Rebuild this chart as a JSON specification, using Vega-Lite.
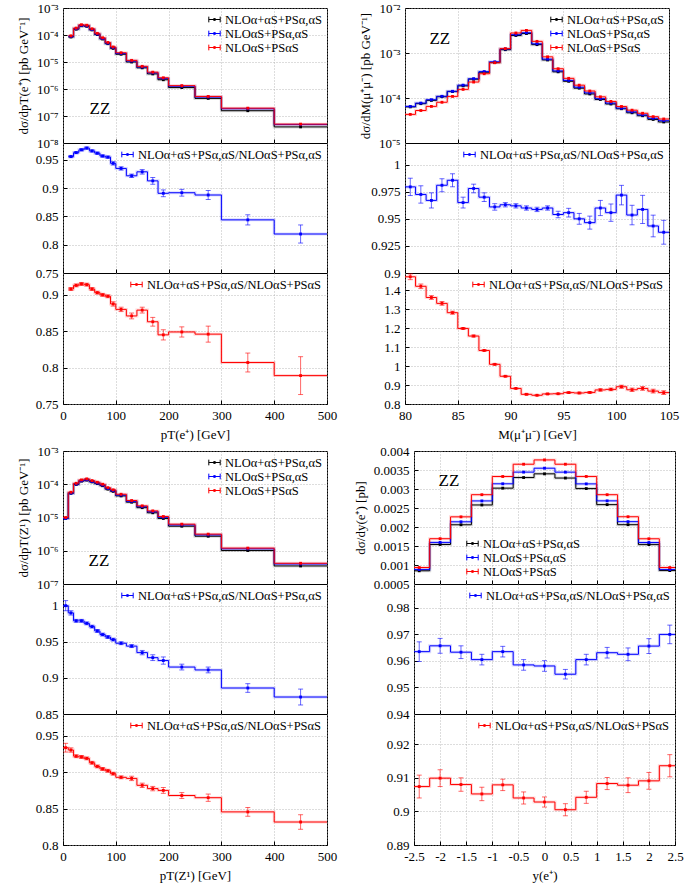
{
"$schema":"https://vega.github.io/schema/vega-lite/v6.json",
"background":"white",
"padding":{"left":16,"top":1,"right":0,"bottom":2},
"config":{
 "font":"Liberation Serif",
 "view":{"stroke":"#000","strokeWidth":1},
 "axis":{"domain":false,"grid":true,"gridColor":"#a8a8a8","gridDash":[1,2],"gridWidth":0.8,"tickColor":"#000","tickSize":-4,"labelPadding":9,"labelFlush":false,"labelFont":"Liberation Serif","labelFontSize":13,"labelColor":"#000","titleFont":"Liberation Serif","titleFontSize":13,"titleFontWeight":"normal","titleColor":"#000"},
 "axisY":{"titlePadding":6},
 "axisX":{"titlePadding":6},
 "legend":{"orient":"top-right","offset":3,"padding":2,"labelFont":"Liberation Serif","labelFontSize":12.5,"labelColor":"#000","symbolType":"M-1,0H1M-1,-0.5V0.5M1,-0.5V0.5M-0.15,-0.15H0.15V0.15H-0.15Z","symbolSize":130,"symbolStrokeWidth":1,"symbolOpacity":1,"rowPadding":1,"labelLimit":400}
},
"datasets":{
"A":[
{"lo":10,"hi":20,"c":15,"k":8.44e-5,"b":8.83e-5,"r":9.3e-5,"r1":0.956,"e1":0.002,"r2":0.908,"e2":0.002},
{"lo":20,"hi":30,"c":25,"k":1.643e-4,"b":1.706e-4,"r":1.8e-4,"r1":0.963,"e1":0.002,"r2":0.913,"e2":0.002},
{"lo":30,"hi":40,"c":35,"k":2.196e-4,"b":2.269e-4,"r":2.4e-4,"r1":0.968,"e1":0.002,"r2":0.915,"e2":0.002},
{"lo":40,"hi":50,"c":45,"k":2.102e-4,"b":2.165e-4,"r":2.3e-4,"r1":0.971,"e1":0.002,"r2":0.914,"e2":0.002},
{"lo":50,"hi":60,"c":55,"k":1.544e-4,"b":1.598e-4,"r":1.7e-4,"r1":0.966,"e1":0.002,"r2":0.908,"e2":0.002},
{"lo":60,"hi":70,"c":65,"k":1.038e-4,"b":1.079e-4,"r":1.15e-4,"r1":0.962,"e1":0.002,"r2":0.903,"e2":0.002},
{"lo":70,"hi":80,"c":75,"k":7.11e-5,"b":7.43e-5,"r":7.9e-5,"r1":0.957,"e1":0.002,"r2":0.9,"e2":0.002},
{"lo":80,"hi":90,"c":85,"k":4.76e-5,"b":4.98e-5,"r":5.3e-5,"r1":0.955,"e1":0.002,"r2":0.898,"e2":0.002},
{"lo":90,"hi":100,"c":95,"k":3.195e-5,"b":3.385e-5,"r":3.6e-5,"r1":0.944,"e1":0.003,"r2":0.8875,"e2":0.003},
{"lo":100,"hi":120,"c":110,"k":1.936e-5,"b":2.07e-5,"r":2.2e-5,"r1":0.935,"e1":0.003,"r2":0.88,"e2":0.003},
{"lo":120,"hi":140,"c":130,"k":1.0e-5,"b":1.085e-5,"r":1.15e-5,"r1":0.922,"e1":0.003,"r2":0.871,"e2":0.004},
{"lo":140,"hi":160,"c":150,"k":6.07e-6,"b":6.53e-6,"r":6.9e-6,"r1":0.929,"e1":0.004,"r2":0.879,"e2":0.004},
{"lo":160,"hi":180,"c":170,"k":3.62e-6,"b":3.97e-6,"r":4.2e-6,"r1":0.913,"e1":0.006,"r2":0.863,"e2":0.006},
{"lo":180,"hi":200,"c":190,"k":2.2e-6,"b":2.47e-6,"r":2.6e-6,"r1":0.891,"e1":0.006,"r2":0.845,"e2":0.007},
{"lo":200,"hi":250,"c":225,"k":1.13e-6,"b":1.267e-6,"r":1.33e-6,"r1":0.892,"e1":0.006,"r2":0.849,"e2":0.007},
{"lo":250,"hi":300,"c":275,"k":4.48e-7,"b":5.05e-7,"r":5.3e-7,"r1":0.888,"e1":0.008,"r2":0.846,"e2":0.011},
{"lo":300,"hi":400,"c":350,"k":1.57e-7,"b":1.86e-7,"r":1.95e-7,"r1":0.844,"e1":0.009,"r2":0.807,"e2":0.013},
{"lo":400,"hi":500,"c":450,"k":3.95e-8,"b":4.82e-8,"r":5.0e-8,"r1":0.819,"e1":0.016,"r2":0.789,"e2":0.026}
],
"B":[
{"lo":80,"hi":81,"c":80.5,"k":6.357e-5,"b":6.49e-5,"r":4.325e-5,"r1":0.9795,"e1":0.008,"r2":1.47,"e2":0.015},
{"lo":81,"hi":82,"c":81.5,"k":7.488e-5,"b":7.7e-5,"r":5.273e-5,"r1":0.9725,"e1":0.008,"r2":1.42,"e2":0.012},
{"lo":82,"hi":83,"c":82.5,"k":8.858e-5,"b":9.16e-5,"r":6.508e-5,"r1":0.967,"e1":0.007,"r2":1.361,"e2":0.01},
{"lo":83,"hi":84,"c":83.5,"k":1.069e-4,"b":1.09e-4,"r":8.038e-5,"r1":0.981,"e1":0.006,"r2":1.33,"e2":0.01},
{"lo":84,"hi":85,"c":84.5,"k":1.39e-4,"b":1.41e-4,"r":1.085e-4,"r1":0.9856,"e1":0.006,"r2":1.281,"e2":0.008},
{"lo":85,"hi":86,"c":85.5,"k":1.862e-4,"b":1.93e-4,"r":1.554e-4,"r1":0.965,"e1":0.005,"r2":1.198,"e2":0.005},
{"lo":86,"hi":87,"c":86.5,"k":2.621e-4,"b":2.68e-4,"r":2.263e-4,"r1":0.978,"e1":0.004,"r2":1.158,"e2":0.005},
{"lo":87,"hi":88,"c":87.5,"k":3.744e-4,"b":3.86e-4,"r":3.46e-4,"r1":0.97,"e1":0.004,"r2":1.082,"e2":0.004},
{"lo":88,"hi":89,"c":88.5,"k":6.131e-4,"b":6.38e-4,"r":6.076e-4,"r1":0.961,"e1":0.003,"r2":1.009,"e2":0.004},
{"lo":89,"hi":90,"c":89.5,"k":1.184e-3,"b":1.23e-3,"r":1.252e-3,"r1":0.963,"e1":0.002,"r2":0.946,"e2":0.003},
{"lo":90,"hi":91,"c":90.5,"k":2.453e-3,"b":2.55e-3,"r":2.781e-3,"r1":0.962,"e1":0.002,"r2":0.882,"e2":0.003},
{"lo":91,"hi":92,"c":91.5,"k":2.707e-3,"b":2.82e-3,"r":3.181e-3,"r1":0.96,"e1":0.002,"r2":0.851,"e2":0.003},
{"lo":92,"hi":93,"c":92.5,"k":1.534e-3,"b":1.6e-3,"r":1.813e-3,"r1":0.9587,"e1":0.002,"r2":0.846,"e2":0.003},
{"lo":93,"hi":94,"c":93.5,"k":7.008e-4,"b":7.3e-4,"r":8.216e-4,"r1":0.96,"e1":0.002,"r2":0.853,"e2":0.003},
{"lo":94,"hi":95,"c":94.5,"k":3.816e-4,"b":4.0e-4,"r":4.468e-4,"r1":0.954,"e1":0.003,"r2":0.854,"e2":0.003},
{"lo":95,"hi":96,"c":95.5,"k":2.351e-4,"b":2.46e-4,"r":2.734e-4,"r1":0.9557,"e1":0.004,"r2":0.86,"e2":0.004},
{"lo":96,"hi":97,"c":96.5,"k":1.653e-4,"b":1.74e-4,"r":1.927e-4,"r1":0.95,"e1":0.005,"r2":0.858,"e2":0.004},
{"lo":97,"hi":98,"c":97.5,"k":1.23e-4,"b":1.3e-4,"r":1.429e-4,"r1":0.9465,"e1":0.006,"r2":0.861,"e2":0.005},
{"lo":98,"hi":99,"c":98.5,"k":9.274e-5,"b":9.66e-5,"r":1.061e-4,"r1":0.96,"e1":0.007,"r2":0.874,"e2":0.006},
{"lo":99,"hi":100,"c":99.5,"k":7.359e-5,"b":7.7e-5,"r":8.391e-5,"r1":0.9557,"e1":0.008,"r2":0.877,"e2":0.007},
{"lo":100,"hi":101,"c":100.5,"k":5.773e-5,"b":5.94e-5,"r":6.479e-5,"r1":0.9719,"e1":0.009,"r2":0.891,"e2":0.008},
{"lo":101,"hi":102,"c":101.5,"k":4.691e-5,"b":4.92e-5,"r":5.361e-5,"r1":0.9535,"e1":0.009,"r2":0.875,"e2":0.009},
{"lo":102,"hi":103,"c":102.5,"k":4.036e-5,"b":4.21e-5,"r":4.576e-5,"r1":0.9587,"e1":0.013,"r2":0.882,"e2":0.01},
{"lo":103,"hi":104,"c":103.5,"k":3.34e-5,"b":3.54e-5,"r":3.848e-5,"r1":0.9434,"e1":0.01,"r2":0.868,"e2":0.01},
{"lo":104,"hi":105,"c":104.5,"k":2.935e-5,"b":3.13e-5,"r":3.413e-5,"r1":0.9376,"e1":0.011,"r2":0.86,"e2":0.01}
],
"C":[
{"lo":0,"hi":10,"c":5,"k":9.34e-6,"b":9.34e-6,"r":1.0e-5,"r1":1.0,"e1":0.007,"r2":0.9337,"e2":0.006},
{"lo":10,"hi":20,"c":15,"k":5.35e-5,"b":5.4e-5,"r":5.75e-5,"r1":0.99,"e1":0.003,"r2":0.9305,"e2":0.003},
{"lo":20,"hi":30,"c":25,"k":9.865e-5,"b":1.008e-4,"r":1.07e-4,"r1":0.979,"e1":0.002,"r2":0.922,"e2":0.002},
{"lo":30,"hi":40,"c":35,"k":1.243e-4,"b":1.27e-4,"r":1.35e-4,"r1":0.979,"e1":0.002,"r2":0.921,"e2":0.002},
{"lo":40,"hi":50,"c":45,"k":1.333e-4,"b":1.366e-4,"r":1.45e-4,"r1":0.9755,"e1":0.002,"r2":0.919,"e2":0.002},
{"lo":50,"hi":60,"c":55,"k":1.178e-4,"b":1.213e-4,"r":1.29e-4,"r1":0.971,"e1":0.002,"r2":0.913,"e2":0.002},
{"lo":60,"hi":70,"c":65,"k":1.044e-4,"b":1.082e-4,"r":1.15e-4,"r1":0.965,"e1":0.002,"r2":0.908,"e2":0.002},
{"lo":70,"hi":80,"c":75,"k":9.045e-5,"b":9.42e-5,"r":1.0e-4,"r1":0.96,"e1":0.002,"r2":0.9045,"e2":0.002},
{"lo":80,"hi":90,"c":85,"k":7.126e-5,"b":7.45e-5,"r":7.9e-5,"r1":0.9566,"e1":0.002,"r2":0.902,"e2":0.002},
{"lo":90,"hi":100,"c":95,"k":6.106e-5,"b":6.41e-5,"r":6.8e-5,"r1":0.953,"e1":0.002,"r2":0.898,"e2":0.002},
{"lo":100,"hi":120,"c":110,"k":4.465e-5,"b":4.71e-5,"r":5.0e-5,"r1":0.948,"e1":0.002,"r2":0.893,"e2":0.002},
{"lo":120,"hi":140,"c":130,"k":2.888e-5,"b":3.06e-5,"r":3.24e-5,"r1":0.944,"e1":0.002,"r2":0.8915,"e2":0.003},
{"lo":140,"hi":160,"c":150,"k":1.976e-5,"b":2.113e-5,"r":2.24e-5,"r1":0.935,"e1":0.003,"r2":0.882,"e2":0.003},
{"lo":160,"hi":180,"c":170,"k":1.386e-5,"b":1.494e-5,"r":1.58e-5,"r1":0.928,"e1":0.004,"r2":0.8775,"e2":0.003},
{"lo":180,"hi":200,"c":190,"k":9.36e-6,"b":1.013e-5,"r":1.07e-5,"r1":0.924,"e1":0.005,"r2":0.875,"e2":0.004},
{"lo":200,"hi":250,"c":225,"k":5.47e-6,"b":5.98e-6,"r":6.3e-6,"r1":0.915,"e1":0.004,"r2":0.868,"e2":0.004},
{"lo":250,"hi":300,"c":275,"k":2.733e-6,"b":3.0e-6,"r":3.16e-6,"r1":0.911,"e1":0.004,"r2":0.865,"e2":0.005},
{"lo":300,"hi":400,"c":350,"k":1.015e-6,"b":1.146e-6,"r":1.2e-6,"r1":0.886,"e1":0.006,"r2":0.8455,"e2":0.006},
{"lo":400,"hi":500,"c":450,"k":3.49e-7,"b":4.0e-7,"r":4.2e-7,"r1":0.8735,"e1":0.011,"r2":0.8316,"e2":0.01}
],
"D":[
{"lo":-2.5,"hi":-2.2,"c":-2.4,"k":0.0008475,"b":0.0008796,"r":0.000934,"r1":0.9635,"e1":0.0037,"r2":0.9074,"e2":0.0034},
{"lo":-2.2,"hi":-1.8,"c":-2.0,"k":0.0015396,"b":0.0015943,"r":0.001692,"r1":0.9657,"e1":0.0028,"r2":0.9099,"e2":0.0025},
{"lo":-1.8,"hi":-1.4,"c":-1.6,"k":0.0020584,"b":0.0021368,"r":0.002267,"r1":0.9633,"e1":0.0024,"r2":0.908,"e2":0.002},
{"lo":-1.4,"hi":-1.0,"c":-1.2,"k":0.0025798,"b":0.0026859,"r":0.00285,"r1":0.9605,"e1":0.002,"r2":0.9052,"e2":0.002},
{"lo":-1.0,"hi":-0.6,"c":-0.8,"k":0.0030224,"b":0.0031369,"r":0.003329,"r1":0.9635,"e1":0.002,"r2":0.9079,"e2":0.0017},
{"lo":-0.6,"hi":-0.2,"c":-0.4,"k":0.0033014,"b":0.0034443,"r":0.003652,"r1":0.9585,"e1":0.002,"r2":0.904,"e2":0.0018},
{"lo":-0.2,"hi":0.2,"c":0.0,"k":0.003399,"b":0.0035476,"r":0.003765,"r1":0.9581,"e1":0.002,"r2":0.9028,"e2":0.0015},
{"lo":0.2,"hi":0.6,"c":0.4,"k":0.0032886,"b":0.0034436,"r":0.003652,"r1":0.955,"e1":0.0018,"r2":0.9005,"e2":0.0018},
{"lo":0.6,"hi":1.0,"c":0.8,"k":0.003011,"b":0.0031348,"r":0.00333,"r1":0.9605,"e1":0.002,"r2":0.9042,"e2":0.0018},
{"lo":1.0,"hi":1.4,"c":1.2,"k":0.0025887,"b":0.0026879,"r":0.00285,"r1":0.9631,"e1":0.002,"r2":0.9083,"e2":0.0018},
{"lo":1.4,"hi":1.8,"c":1.6,"k":0.0020607,"b":0.002141,"r":0.00227,"r1":0.9625,"e1":0.0024,"r2":0.9078,"e2":0.0022},
{"lo":1.8,"hi":2.2,"c":2.0,"k":0.0015364,"b":0.0015911,"r":0.00169,"r1":0.9656,"e1":0.0028,"r2":0.9091,"e2":0.0025},
{"lo":2.2,"hi":2.5,"c":2.4,"k":0.0008533,"b":0.0008797,"r":0.000934,"r1":0.97,"e1":0.0035,"r2":0.9136,"e2":0.0033}
]
},
"vconcat":[
{"hconcat":[
 {"vconcat":[
  {"width":264,"height":135,"data":{"name":"A"},
   "encoding":{
    "x":{"field":"c","type":"quantitative","scale":{"domain":[0,500],"nice":false},"axis":{"values":[0,100,200,300,400,500],"labels":false,"title":null}},
    "y":{"field":"v","type":"quantitative","scale":{"type":"log","domain":[1e-8,1e-3],"nice":false},"axis":{"values":[1e-8,1e-7,1e-6,1e-5,1e-4,1e-3],"labelExpr":"'10'+replace(replace(replace(replace(replace(replace(replace(replace(toString(round(log(datum.value)/LN10)),'-','⁻'),'2','²'),'3','³'),'4','⁴'),'5','⁵'),'6','⁶'),'7','⁷'),'8','⁸')","title":"dσ/dpT(e⁺) [pb GeV⁻¹]"}},
    "color":{"field":"s","type":"nominal","scale":{"domain":["k","b","r"],"range":["#000000","#0000ff","#ff0000"]},"legend":{"title":null,"labelExpr":"datum.label=='k'?'NLOα+αS+PSα,αS':datum.label=='b'?'NLOαS+PSα,αS':'NLOαS+PSαS'"}}},
   "layer":[
    {"transform":[{"fold":["k","b","r"],"as":["s","v"]},{"fold":["lo","hi"],"as":["kk","xe"]}],
     "mark":{"type":"line","strokeWidth":3,"opacity":0.15,"clip":true},
     "encoding":{"x":{"field":"xe","type":"quantitative","scale":{"domain":[0,500],"nice":false},"axis":{"values":[0,100,200,300,400,500],"labels":false,"title":null}},
      "order":[{"field":"xe","type":"quantitative"},{"field":"kk","type":"ordinal"}]}},
    {"transform":[{"fold":["k","b","r"],"as":["s","v"]},{"fold":["lo","hi"],"as":["kk","xe"]}],
     "mark":{"type":"line","strokeWidth":1,"clip":true},
     "encoding":{"x":{"field":"xe","type":"quantitative","scale":{"domain":[0,500],"nice":false},"axis":{"values":[0,100,200,300,400,500],"labels":false,"title":null}},
      "order":[{"field":"xe","type":"quantitative"},{"field":"kk","type":"ordinal"}]}},
    {"transform":[{"fold":["k","b","r"],"as":["s","v"]}],
     "mark":{"type":"point","shape":"square","filled":true,"size":8,"opacity":1,"clip":true},"encoding":{}},
    {"data":{"values":[{"t":"ZZ","zx":70,"zy":1.8e-7}]},"mark":{"type":"text","fontSize":17,"color":"#000"},
     "encoding":{"x":{"field":"zx","type":"quantitative"},"y":{"field":"zy","type":"quantitative"},"text":{"field":"t"},"color":null}}
   ]},
  {"width":264,"height":130,"data":{"name":"A"},
   "encoding":{
    "x":{"field":"c","type":"quantitative","scale":{"domain":[0,500],"nice":false},"axis":{"values":[0,100,200,300,400,500],"labels":false,"title":null}},
    "y":{"field":"r1","type":"quantitative","scale":{"domain":[0.75,0.98],"nice":false,"zero":false},"axis":{"values":[0.75,0.8,0.85,0.9,0.95],"labelExpr":"toString(datum.value)","title":null}}},
   "layer":[
    {"transform":[{"fold":["lo","hi"],"as":["kk","xe"]}],"mark":{"type":"line","strokeWidth":3,"opacity":0.15,"color":"#0000ff","clip":true},
     "encoding":{"x":{"field":"xe","type":"quantitative","scale":{"domain":[0,500],"nice":false},"axis":{"values":[0,100,200,300,400,500],"labels":false,"title":null}},"order":[{"field":"xe","type":"quantitative"},{"field":"kk","type":"ordinal"}]}},
    {"transform":[{"fold":["lo","hi"],"as":["kk","xe"]}],"mark":{"type":"line","strokeWidth":1,"clip":true},
     "encoding":{"x":{"field":"xe","type":"quantitative","scale":{"domain":[0,500],"nice":false},"axis":{"values":[0,100,200,300,400,500],"labels":false,"title":null}},"order":[{"field":"xe","type":"quantitative"},{"field":"kk","type":"ordinal"}],
      "color":{"datum":"NLOα+αS+PSα,αS/NLOαS+PSα,αS","type":"nominal","scale":{"range":["#0000ff"]},"legend":{"title":null}}}},
    {"mark":{"type":"errorbar","ticks":true,"color":"#0000ff","opacity":0.6},"encoding":{"yError":{"field":"e1"}}},
    {"mark":{"type":"point","shape":"square","filled":true,"size":8,"color":"#0000ff","opacity":1,"clip":true},"encoding":{}}
   ]},
  {"width":264,"height":131,"data":{"name":"A"},
   "encoding":{
    "x":{"field":"c","type":"quantitative","scale":{"domain":[0,500],"nice":false},"axis":{"values":[0,100,200,300,400,500],"labelExpr":"toString(datum.value)","title":"pT(e⁺) [GeV]"}},
    "y":{"field":"r2","type":"quantitative","scale":{"domain":[0.75,0.93],"nice":false,"zero":false},"axis":{"values":[0.75,0.8,0.85,0.9],"labelExpr":"toString(datum.value)","title":null}}},
   "layer":[
    {"transform":[{"fold":["lo","hi"],"as":["kk","xe"]}],"mark":{"type":"line","strokeWidth":3,"opacity":0.15,"color":"#ff0000","clip":true},
     "encoding":{"x":{"field":"xe","type":"quantitative","scale":{"domain":[0,500],"nice":false},"axis":{"values":[0,100,200,300,400,500],"labelExpr":"toString(datum.value)","title":"pT(e⁺) [GeV]"}},"order":[{"field":"xe","type":"quantitative"},{"field":"kk","type":"ordinal"}]}},
    {"transform":[{"fold":["lo","hi"],"as":["kk","xe"]}],"mark":{"type":"line","strokeWidth":1,"clip":true},
     "encoding":{"x":{"field":"xe","type":"quantitative","scale":{"domain":[0,500],"nice":false},"axis":{"values":[0,100,200,300,400,500],"labelExpr":"toString(datum.value)","title":"pT(e⁺) [GeV]"}},"order":[{"field":"xe","type":"quantitative"},{"field":"kk","type":"ordinal"}],
      "color":{"datum":"NLOα+αS+PSα,αS/NLOαS+PSαS","type":"nominal","scale":{"range":["#ff0000"]},"legend":{"title":null}}}},
    {"mark":{"type":"errorbar","ticks":true,"color":"#ff0000","opacity":0.6},"encoding":{"yError":{"field":"e2"}}},
    {"mark":{"type":"point","shape":"square","filled":true,"size":8,"color":"#ff0000","opacity":1,"clip":true},"encoding":{}}
   ]}
 ],"spacing":0,"bounds":"flush","resolve":{"scale":{"x":"independent","y":"independent","color":"independent"},"legend":{"color":"independent"}}},
 {"vconcat":[
  {"width":264,"height":135,"data":{"name":"B"},
   "encoding":{
    "x":{"field":"c","type":"quantitative","scale":{"domain":[80,105],"nice":false,"zero":false},"axis":{"values":[80,85,90,95,100,105],"labels":false,"title":null}},
    "y":{"field":"v","type":"quantitative","scale":{"type":"log","domain":[1e-5,1e-2],"nice":false},"axis":{"values":[1e-5,1e-4,1e-3,1e-2],"labelExpr":"'10'+replace(replace(replace(replace(replace(replace(replace(replace(toString(round(log(datum.value)/LN10)),'-','⁻'),'2','²'),'3','³'),'4','⁴'),'5','⁵'),'6','⁶'),'7','⁷'),'8','⁸')","title":"dσ/dM(μ⁺μ⁻) [pb GeV⁻¹]"}},
    "color":{"field":"s","type":"nominal","scale":{"domain":["k","b","r"],"range":["#000000","#0000ff","#ff0000"]},"legend":{"title":null,"labelExpr":"datum.label=='k'?'NLOα+αS+PSα,αS':datum.label=='b'?'NLOαS+PSα,αS':'NLOαS+PSαS'"}}},
   "layer":[
    {"transform":[{"fold":["k","b","r"],"as":["s","v"]},{"fold":["lo","hi"],"as":["kk","xe"]}],
     "mark":{"type":"line","strokeWidth":3,"opacity":0.15,"clip":true},
     "encoding":{"x":{"field":"xe","type":"quantitative","scale":{"domain":[80,105],"nice":false,"zero":false},"axis":{"values":[80,85,90,95,100,105],"labels":false,"title":null}},
      "order":[{"field":"xe","type":"quantitative"},{"field":"kk","type":"ordinal"}]}},
    {"transform":[{"fold":["k","b","r"],"as":["s","v"]},{"fold":["lo","hi"],"as":["kk","xe"]}],
     "mark":{"type":"line","strokeWidth":1,"clip":true},
     "encoding":{"x":{"field":"xe","type":"quantitative","scale":{"domain":[80,105],"nice":false,"zero":false},"axis":{"values":[80,85,90,95,100,105],"labels":false,"title":null}},
      "order":[{"field":"xe","type":"quantitative"},{"field":"kk","type":"ordinal"}]}},
    {"transform":[{"fold":["k","b","r"],"as":["s","v"]}],
     "mark":{"type":"point","shape":"square","filled":true,"size":8,"opacity":1,"clip":true},"encoding":{}},
    {"data":{"values":[{"t":"ZZ","zx":83.3,"zy":2.07e-3}]},"mark":{"type":"text","fontSize":17,"color":"#000"},
     "encoding":{"x":{"field":"zx","type":"quantitative"},"y":{"field":"zy","type":"quantitative"},"text":{"field":"t"},"color":null}}
   ]},
  {"width":264,"height":130,"data":{"name":"B"},
   "encoding":{
    "x":{"field":"c","type":"quantitative","scale":{"domain":[80,105],"nice":false,"zero":false},"axis":{"values":[80,85,90,95,100,105],"labels":false,"title":null}},
    "y":{"field":"r1","type":"quantitative","scale":{"domain":[0.9,1.02],"nice":false,"zero":false},"axis":{"values":[0.9,0.925,0.95,0.975,1],"labelExpr":"toString(datum.value)","title":null}}},
   "layer":[
    {"transform":[{"fold":["lo","hi"],"as":["kk","xe"]}],"mark":{"type":"line","strokeWidth":3,"opacity":0.15,"color":"#0000ff","clip":true},
     "encoding":{"x":{"field":"xe","type":"quantitative","scale":{"domain":[80,105],"nice":false,"zero":false},"axis":{"values":[80,85,90,95,100,105],"labels":false,"title":null}},"order":[{"field":"xe","type":"quantitative"},{"field":"kk","type":"ordinal"}]}},
    {"transform":[{"fold":["lo","hi"],"as":["kk","xe"]}],"mark":{"type":"line","strokeWidth":1,"clip":true},
     "encoding":{"x":{"field":"xe","type":"quantitative","scale":{"domain":[80,105],"nice":false,"zero":false},"axis":{"values":[80,85,90,95,100,105],"labels":false,"title":null}},"order":[{"field":"xe","type":"quantitative"},{"field":"kk","type":"ordinal"}],
      "color":{"datum":"NLOα+αS+PSα,αS/NLOαS+PSα,αS","type":"nominal","scale":{"range":["#0000ff"]},"legend":{"title":null}}}},
    {"mark":{"type":"errorbar","ticks":true,"color":"#0000ff","opacity":0.6},"encoding":{"yError":{"field":"e1"}}},
    {"mark":{"type":"point","shape":"square","filled":true,"size":8,"color":"#0000ff","opacity":1,"clip":true},"encoding":{}}
   ]},
  {"width":264,"height":131,"data":{"name":"B"},
   "encoding":{
    "x":{"field":"c","type":"quantitative","scale":{"domain":[80,105],"nice":false,"zero":false},"axis":{"values":[80,85,90,95,100,105],"labelExpr":"toString(datum.value)","title":"M(μ⁺μ⁻) [GeV]"}},
    "y":{"field":"r2","type":"quantitative","scale":{"domain":[0.8,1.49],"nice":false,"zero":false},"axis":{"values":[0.8,0.9,1,1.1,1.2,1.3,1.4],"labelExpr":"toString(datum.value)","title":null}}},
   "layer":[
    {"transform":[{"fold":["lo","hi"],"as":["kk","xe"]}],"mark":{"type":"line","strokeWidth":3,"opacity":0.15,"color":"#ff0000","clip":true},
     "encoding":{"x":{"field":"xe","type":"quantitative","scale":{"domain":[80,105],"nice":false,"zero":false},"axis":{"values":[80,85,90,95,100,105],"labelExpr":"toString(datum.value)","title":"M(μ⁺μ⁻) [GeV]"}},"order":[{"field":"xe","type":"quantitative"},{"field":"kk","type":"ordinal"}]}},
    {"transform":[{"fold":["lo","hi"],"as":["kk","xe"]}],"mark":{"type":"line","strokeWidth":1,"clip":true},
     "encoding":{"x":{"field":"xe","type":"quantitative","scale":{"domain":[80,105],"nice":false,"zero":false},"axis":{"values":[80,85,90,95,100,105],"labelExpr":"toString(datum.value)","title":"M(μ⁺μ⁻) [GeV]"}},"order":[{"field":"xe","type":"quantitative"},{"field":"kk","type":"ordinal"}],
      "color":{"datum":"NLOα+αS+PSα,αS/NLOαS+PSαS","type":"nominal","scale":{"range":["#ff0000"]},"legend":{"title":null}}}},
    {"mark":{"type":"errorbar","ticks":true,"color":"#ff0000","opacity":0.6},"encoding":{"yError":{"field":"e2"}}},
    {"mark":{"type":"point","shape":"square","filled":true,"size":8,"color":"#ff0000","opacity":1,"clip":true},"encoding":{}}
   ]}
 ],"spacing":0,"bounds":"flush","resolve":{"scale":{"x":"independent","y":"independent","color":"independent"},"legend":{"color":"independent"}}}
],"spacing":20,"resolve":{"scale":{"x":"independent","y":"independent","color":"independent"},"legend":{"color":"independent"}}},
{"hconcat":[
 {"vconcat":[
  {"width":264,"height":133,"data":{"name":"C"},
   "encoding":{
    "x":{"field":"c","type":"quantitative","scale":{"domain":[0,500],"nice":false},"axis":{"values":[0,100,200,300,400,500],"labels":false,"title":null}},
    "y":{"field":"v","type":"quantitative","scale":{"type":"log","domain":[1e-7,1e-3],"nice":false},"axis":{"values":[1e-7,1e-6,1e-5,1e-4,1e-3],"labelExpr":"'10'+replace(replace(replace(replace(replace(replace(replace(replace(toString(round(log(datum.value)/LN10)),'-','⁻'),'2','²'),'3','³'),'4','⁴'),'5','⁵'),'6','⁶'),'7','⁷'),'8','⁸')","title":"dσ/dpT(Z¹) [pb GeV⁻¹]"}},
    "color":{"field":"s","type":"nominal","scale":{"domain":["k","b","r"],"range":["#000000","#0000ff","#ff0000"]},"legend":{"title":null,"labelExpr":"datum.label=='k'?'NLOα+αS+PSα,αS':datum.label=='b'?'NLOαS+PSα,αS':'NLOαS+PSαS'"}}},
   "layer":[
    {"transform":[{"fold":["k","b","r"],"as":["s","v"]},{"fold":["lo","hi"],"as":["kk","xe"]}],
     "mark":{"type":"line","strokeWidth":3,"opacity":0.15,"clip":true},
     "encoding":{"x":{"field":"xe","type":"quantitative","scale":{"domain":[0,500],"nice":false},"axis":{"values":[0,100,200,300,400,500],"labels":false,"title":null}},
      "order":[{"field":"xe","type":"quantitative"},{"field":"kk","type":"ordinal"}]}},
    {"transform":[{"fold":["k","b","r"],"as":["s","v"]},{"fold":["lo","hi"],"as":["kk","xe"]}],
     "mark":{"type":"line","strokeWidth":1,"clip":true},
     "encoding":{"x":{"field":"xe","type":"quantitative","scale":{"domain":[0,500],"nice":false},"axis":{"values":[0,100,200,300,400,500],"labels":false,"title":null}},
      "order":[{"field":"xe","type":"quantitative"},{"field":"kk","type":"ordinal"}]}},
    {"transform":[{"fold":["k","b","r"],"as":["s","v"]}],
     "mark":{"type":"point","shape":"square","filled":true,"size":8,"opacity":1,"clip":true},"encoding":{}},
    {"data":{"values":[{"t":"ZZ","zx":68,"zy":4.8e-7}]},"mark":{"type":"text","fontSize":17,"color":"#000"},
     "encoding":{"x":{"field":"zx","type":"quantitative"},"y":{"field":"zy","type":"quantitative"},"text":{"field":"t"},"color":null}}
   ]},
  {"width":264,"height":130,"data":{"name":"C"},
   "encoding":{
    "x":{"field":"c","type":"quantitative","scale":{"domain":[0,500],"nice":false},"axis":{"values":[0,100,200,300,400,500],"labels":false,"title":null}},
    "y":{"field":"r1","type":"quantitative","scale":{"domain":[0.85,1.03],"nice":false,"zero":false},"axis":{"values":[0.85,0.9,0.95,1],"labelExpr":"toString(datum.value)","title":null}}},
   "layer":[
    {"transform":[{"fold":["lo","hi"],"as":["kk","xe"]}],"mark":{"type":"line","strokeWidth":3,"opacity":0.15,"color":"#0000ff","clip":true},
     "encoding":{"x":{"field":"xe","type":"quantitative","scale":{"domain":[0,500],"nice":false},"axis":{"values":[0,100,200,300,400,500],"labels":false,"title":null}},"order":[{"field":"xe","type":"quantitative"},{"field":"kk","type":"ordinal"}]}},
    {"transform":[{"fold":["lo","hi"],"as":["kk","xe"]}],"mark":{"type":"line","strokeWidth":1,"clip":true},
     "encoding":{"x":{"field":"xe","type":"quantitative","scale":{"domain":[0,500],"nice":false},"axis":{"values":[0,100,200,300,400,500],"labels":false,"title":null}},"order":[{"field":"xe","type":"quantitative"},{"field":"kk","type":"ordinal"}],
      "color":{"datum":"NLOα+αS+PSα,αS/NLOαS+PSα,αS","type":"nominal","scale":{"range":["#0000ff"]},"legend":{"title":null}}}},
    {"mark":{"type":"errorbar","ticks":true,"color":"#0000ff","opacity":0.6},"encoding":{"yError":{"field":"e1"}}},
    {"mark":{"type":"point","shape":"square","filled":true,"size":8,"color":"#0000ff","opacity":1,"clip":true},"encoding":{}}
   ]},
  {"width":264,"height":131,"data":{"name":"C"},
   "encoding":{
    "x":{"field":"c","type":"quantitative","scale":{"domain":[0,500],"nice":false},"axis":{"values":[0,100,200,300,400,500],"labelExpr":"toString(datum.value)","title":"pT(Z¹) [GeV]"}},
    "y":{"field":"r2","type":"quantitative","scale":{"domain":[0.8,0.98],"nice":false,"zero":false},"axis":{"values":[0.8,0.85,0.9,0.95],"labelExpr":"toString(datum.value)","title":null}}},
   "layer":[
    {"transform":[{"fold":["lo","hi"],"as":["kk","xe"]}],"mark":{"type":"line","strokeWidth":3,"opacity":0.15,"color":"#ff0000","clip":true},
     "encoding":{"x":{"field":"xe","type":"quantitative","scale":{"domain":[0,500],"nice":false},"axis":{"values":[0,100,200,300,400,500],"labelExpr":"toString(datum.value)","title":"pT(Z¹) [GeV]"}},"order":[{"field":"xe","type":"quantitative"},{"field":"kk","type":"ordinal"}]}},
    {"transform":[{"fold":["lo","hi"],"as":["kk","xe"]}],"mark":{"type":"line","strokeWidth":1,"clip":true},
     "encoding":{"x":{"field":"xe","type":"quantitative","scale":{"domain":[0,500],"nice":false},"axis":{"values":[0,100,200,300,400,500],"labelExpr":"toString(datum.value)","title":"pT(Z¹) [GeV]"}},"order":[{"field":"xe","type":"quantitative"},{"field":"kk","type":"ordinal"}],
      "color":{"datum":"NLOα+αS+PSα,αS/NLOαS+PSαS","type":"nominal","scale":{"range":["#ff0000"]},"legend":{"title":null}}}},
    {"mark":{"type":"errorbar","ticks":true,"color":"#ff0000","opacity":0.6},"encoding":{"yError":{"field":"e2"}}},
    {"mark":{"type":"point","shape":"square","filled":true,"size":8,"color":"#ff0000","opacity":1,"clip":true},"encoding":{}}
   ]}
 ],"spacing":0,"bounds":"flush","resolve":{"scale":{"x":"independent","y":"independent","color":"independent"},"legend":{"color":"independent"}}},
 {"vconcat":[
  {"width":261,"height":133,"data":{"name":"D"},
   "encoding":{
    "x":{"field":"c","type":"quantitative","scale":{"domain":[-2.5,2.5],"nice":false},"axis":{"values":[-2.5,-2,-1.5,-1,-0.5,0,0.5,1,1.5,2,2.5],"labels":false,"title":null}},
    "y":{"field":"v","type":"quantitative","scale":{"domain":[0.0005,0.004],"nice":false,"zero":false},"axis":{"values":[0.0005,0.001,0.0015,0.002,0.0025,0.003,0.0035,0.004],"labelExpr":"toString(datum.value)","title":"dσ/dy(e⁺) [pb]"}},
    "color":{"field":"s","type":"nominal","scale":{"domain":["k","b","r"],"range":["#000000","#0000ff","#ff0000"]},"legend":{"title":null,"orient":"none","legendX":50,"legendY":84,"labelExpr":"datum.label=='k'?'NLOα+αS+PSα,αS':datum.label=='b'?'NLOαS+PSα,αS':'NLOαS+PSαS'"}}},
   "layer":[
    {"transform":[{"fold":["k","b","r"],"as":["s","v"]},{"fold":["lo","hi"],"as":["kk","xe"]}],
     "mark":{"type":"line","strokeWidth":3,"opacity":0.15,"clip":true},
     "encoding":{"x":{"field":"xe","type":"quantitative","scale":{"domain":[-2.5,2.5],"nice":false},"axis":{"values":[-2.5,-2,-1.5,-1,-0.5,0,0.5,1,1.5,2,2.5],"labels":false,"title":null}},
      "order":[{"field":"xe","type":"quantitative"},{"field":"kk","type":"ordinal"}]}},
    {"transform":[{"fold":["k","b","r"],"as":["s","v"]},{"fold":["lo","hi"],"as":["kk","xe"]}],
     "mark":{"type":"line","strokeWidth":1,"clip":true},
     "encoding":{"x":{"field":"xe","type":"quantitative","scale":{"domain":[-2.5,2.5],"nice":false},"axis":{"values":[-2.5,-2,-1.5,-1,-0.5,0,0.5,1,1.5,2,2.5],"labels":false,"title":null}},
      "order":[{"field":"xe","type":"quantitative"},{"field":"kk","type":"ordinal"}]}},
    {"transform":[{"fold":["k","b","r"],"as":["s","v"]}],
     "mark":{"type":"point","shape":"square","filled":true,"size":8,"opacity":1,"clip":true},"encoding":{}},
    {"data":{"values":[{"t":"ZZ","zx":-1.83,"zy":0.0032}]},"mark":{"type":"text","fontSize":17,"color":"#000"},
     "encoding":{"x":{"field":"zx","type":"quantitative"},"y":{"field":"zy","type":"quantitative"},"text":{"field":"t"},"color":null}}
   ]},
  {"width":261,"height":130,"data":{"name":"D"},
   "encoding":{
    "x":{"field":"c","type":"quantitative","scale":{"domain":[-2.5,2.5],"nice":false},"axis":{"values":[-2.5,-2,-1.5,-1,-0.5,0,0.5,1,1.5,2,2.5],"labels":false,"title":null}},
    "y":{"field":"r1","type":"quantitative","scale":{"domain":[0.94,0.989],"nice":false,"zero":false},"axis":{"values":[0.94,0.95,0.96,0.97,0.98],"labelExpr":"toString(datum.value)","title":null}}},
   "layer":[
    {"transform":[{"fold":["lo","hi"],"as":["kk","xe"]}],"mark":{"type":"line","strokeWidth":3,"opacity":0.15,"color":"#0000ff","clip":true},
     "encoding":{"x":{"field":"xe","type":"quantitative","scale":{"domain":[-2.5,2.5],"nice":false},"axis":{"values":[-2.5,-2,-1.5,-1,-0.5,0,0.5,1,1.5,2,2.5],"labels":false,"title":null}},"order":[{"field":"xe","type":"quantitative"},{"field":"kk","type":"ordinal"}]}},
    {"transform":[{"fold":["lo","hi"],"as":["kk","xe"]}],"mark":{"type":"line","strokeWidth":1,"clip":true},
     "encoding":{"x":{"field":"xe","type":"quantitative","scale":{"domain":[-2.5,2.5],"nice":false},"axis":{"values":[-2.5,-2,-1.5,-1,-0.5,0,0.5,1,1.5,2,2.5],"labels":false,"title":null}},"order":[{"field":"xe","type":"quantitative"},{"field":"kk","type":"ordinal"}],
      "color":{"datum":"NLOα+αS+PSα,αS/NLOαS+PSα,αS","type":"nominal","scale":{"range":["#0000ff"]},"legend":{"title":null}}}},
    {"mark":{"type":"errorbar","ticks":true,"color":"#0000ff","opacity":0.6},"encoding":{"yError":{"field":"e1"}}},
    {"mark":{"type":"point","shape":"square","filled":true,"size":8,"color":"#0000ff","opacity":1,"clip":true},"encoding":{}}
   ]},
  {"width":261,"height":131,"data":{"name":"D"},
   "encoding":{
    "x":{"field":"c","type":"quantitative","scale":{"domain":[-2.5,2.5],"nice":false},"axis":{"values":[-2.5,-2,-1.5,-1,-0.5,0,0.5,1,1.5,2,2.5],"labelExpr":"toString(datum.value)","title":"y(e⁺)"}},
    "y":{"field":"r2","type":"quantitative","scale":{"domain":[0.89,0.929],"nice":false,"zero":false},"axis":{"values":[0.89,0.9,0.91,0.92],"labelExpr":"toString(datum.value)","title":null}}},
   "layer":[
    {"transform":[{"fold":["lo","hi"],"as":["kk","xe"]}],"mark":{"type":"line","strokeWidth":3,"opacity":0.15,"color":"#ff0000","clip":true},
     "encoding":{"x":{"field":"xe","type":"quantitative","scale":{"domain":[-2.5,2.5],"nice":false},"axis":{"values":[-2.5,-2,-1.5,-1,-0.5,0,0.5,1,1.5,2,2.5],"labelExpr":"toString(datum.value)","title":"y(e⁺)"}},"order":[{"field":"xe","type":"quantitative"},{"field":"kk","type":"ordinal"}]}},
    {"transform":[{"fold":["lo","hi"],"as":["kk","xe"]}],"mark":{"type":"line","strokeWidth":1,"clip":true},
     "encoding":{"x":{"field":"xe","type":"quantitative","scale":{"domain":[-2.5,2.5],"nice":false},"axis":{"values":[-2.5,-2,-1.5,-1,-0.5,0,0.5,1,1.5,2,2.5],"labelExpr":"toString(datum.value)","title":"y(e⁺)"}},"order":[{"field":"xe","type":"quantitative"},{"field":"kk","type":"ordinal"}],
      "color":{"datum":"NLOα+αS+PSα,αS/NLOαS+PSαS","type":"nominal","scale":{"range":["#ff0000"]},"legend":{"title":null}}}},
    {"mark":{"type":"errorbar","ticks":true,"color":"#ff0000","opacity":0.6},"encoding":{"yError":{"field":"e2"}}},
    {"mark":{"type":"point","shape":"square","filled":true,"size":8,"color":"#ff0000","opacity":1,"clip":true},"encoding":{}}
   ]}
 ],"spacing":0,"bounds":"flush","resolve":{"scale":{"x":"independent","y":"independent","color":"independent"},"legend":{"color":"independent"}}}
],"spacing":15,"resolve":{"scale":{"x":"independent","y":"independent","color":"independent"},"legend":{"color":"independent"}}}
],
"spacing":2,
"resolve":{"scale":{"x":"independent","y":"independent","color":"independent"},"legend":{"color":"independent"}}
}
